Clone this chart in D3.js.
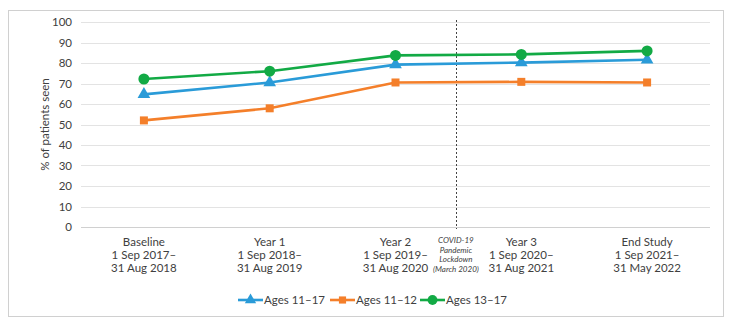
<!DOCTYPE html>
<html>
<head>
<meta charset="utf-8">
<script src="https://cdn.jsdelivr.net/npm/d3@7"></script>
<style>
  body { margin: 0; background: #fff; }
  svg { font-family: Lato, "Open Sans", sans-serif; }
</style>
</head>
<body>
<div id="chart"></div>
<script>
// periods on the x axis, each label split in lines
const periods = ["Baseline", "Year 1", "Year 2", "Year 3", "End Study"]
const periodLines = [
  ["Baseline", "1 Sep 2017\u2013", "31 Aug 2018"],
  ["Year 1", "1 Sep 2018\u2013", "31 Aug 2019"],
  ["Year 2", "1 Sep 2019\u2013", "31 Aug 2020"],
  ["Year 3", "1 Sep 2020\u2013", "31 Aug 2021"],
  ["End Study", "1 Sep 2021\u2013", "31 May 2022"]
]
const yTicks = [0, 10, 20, 30, 40, 50, 60, 70, 80, 90, 100]

// % of patients seen
const ages11to17 = [64.7, 70.5, 79.2, 80.2, 81.6]
const ages11to12 = [52.0, 57.9, 70.5, 70.8, 70.5]
const ages13to17 = [72.2, 76.0, 83.7, 84.2, 85.9]

const lockdownLines = ["COVID-19", "Pandemic", "Lockdown", "(March 2020)"]

const series = [
  { name: "Ages 11\u201317", values: ages11to17, color: "#2a9bd8", shape: d3.symbolTriangle, size: 70 },
  { name: "Ages 11\u201312", values: ages11to12, color: "#f47f2a", shape: d3.symbolSquare, size: 64 },
  { name: "Ages 13\u201317", values: ages13to17, color: "#12aa45", shape: d3.symbolCircle, size: 95 }
]

const W = 733, H = 327
const plot = { left: 81, right: 710, top: 22, bottom: 227 }

const svg = d3.select("#chart").append("svg")
  .attr("width", W).attr("height", H)

// outer frame
svg.append("rect")
  .attr("x", 8.5).attr("y", 10.5)
  .attr("width", 715).attr("height", 306)
  .attr("fill", "white").attr("stroke", "#d0d0d0").attr("stroke-width", 1)

const x = d3.scaleBand().domain(periods).range([plot.left, plot.right])
const y = d3.scaleLinear().domain([0, 100]).range([plot.bottom, plot.top])

// gridlines
svg.append("g").selectAll("line")
  .data(yTicks).enter().append("line")
  .attr("x1", plot.left).attr("x2", plot.right)
  .attr("y1", d => Math.round(y(d)) + 0.5).attr("y2", d => Math.round(y(d)) + 0.5)
  .attr("stroke", d => d === 0 ? "#d0d0d0" : "#e3e3e3").attr("stroke-width", 1)

// y axis labels
const yAxis = svg.append("g")
  .attr("transform", `translate(${plot.left - 6},0)`)
  .call(d3.axisLeft(y).tickValues(yTicks).tickSize(0).tickPadding(3))
yAxis.select(".domain").remove()
yAxis.selectAll("text")
  .attr("font-family", "Lato, 'Open Sans', sans-serif")
  .attr("font-size", 11.5).attr("fill", "#404040")

svg.append("text")
  .attr("transform", `translate(49,${(plot.top + plot.bottom) / 2}) rotate(-90)`)
  .attr("text-anchor", "middle")
  .attr("font-size", 11.5).attr("fill", "#404040")
  .text("% of patients seen")

// x labels
const xl = svg.append("g").selectAll("text")
  .data(periodLines).enter().append("text")
  .attr("text-anchor", "middle")
  .attr("font-size", 11.5).attr("fill", "#404040")
xl.selectAll("tspan")
  .data((d, i) => d.map(t => ({ t: t, i: i })))
  .enter().append("tspan")
  .attr("x", d => x(periods[d.i]) + x.bandwidth() / 2)
  .attr("y", (d, j) => 246 + j * 12.8)
  .text(d => d.t)

// lockdown marker between Year 2 and Year 3
const lockX = (x("Year 2") + x("Year 3") + x.bandwidth()) / 2 - 2.5
svg.append("line")
  .attr("x1", Math.round(lockX) + 0.5).attr("x2", Math.round(lockX) + 0.5)
  .attr("y1", plot.top - 2).attr("y2", plot.bottom + 2)
  .attr("stroke", "#444").attr("stroke-width", 1)
  .attr("stroke-dasharray", "2,2")

svg.append("g").selectAll("text")
  .data(lockdownLines).enter().append("text")
  .attr("x", lockX)
  .attr("y", (d, i) => 243 + i * 9.5)
  .attr("text-anchor", "middle")
  .attr("font-size", 8).attr("font-style", "italic").attr("fill", "#404040")
  .text(d => d)

// lines + markers
const line = d3.line()
  .x((d, i) => x(periods[i]) + x.bandwidth() / 2)
  .y(d => y(d))

series.forEach(s => {
  const g = svg.append("g")
  g.append("path")
    .attr("d", line(s.values))
    .attr("fill", "none").attr("stroke", s.color).attr("stroke-width", 2.6)
  g.selectAll("path.m")
    .data(s.values).enter().append("path")
    .attr("class", "m")
    .attr("d", d3.symbol().type(s.shape).size(s.size))
    .attr("transform", (d, i) => `translate(${x(periods[i]) + x.bandwidth() / 2},${y(d)})`)
    .attr("fill", s.color)
})

// legend
const legendX = [238, 330, 420]
series.forEach((s, i) => {
  const g = svg.append("g").attr("transform", `translate(${legendX[i]},300)`)
  g.append("line").attr("x1", 0).attr("x2", 25).attr("y1", 0).attr("y2", 0)
    .attr("stroke", s.color).attr("stroke-width", 2.6)
  g.append("path")
    .attr("d", d3.symbol().type(s.shape).size(s.size * 0.8))
    .attr("transform", "translate(12.5,0)")
    .attr("fill", s.color)
  g.append("text")
    .attr("x", 26).attr("y", 4)
    .attr("font-size", 11.5).attr("fill", "#404040")
    .text(s.name)
})
</script>
</body>
</html>
